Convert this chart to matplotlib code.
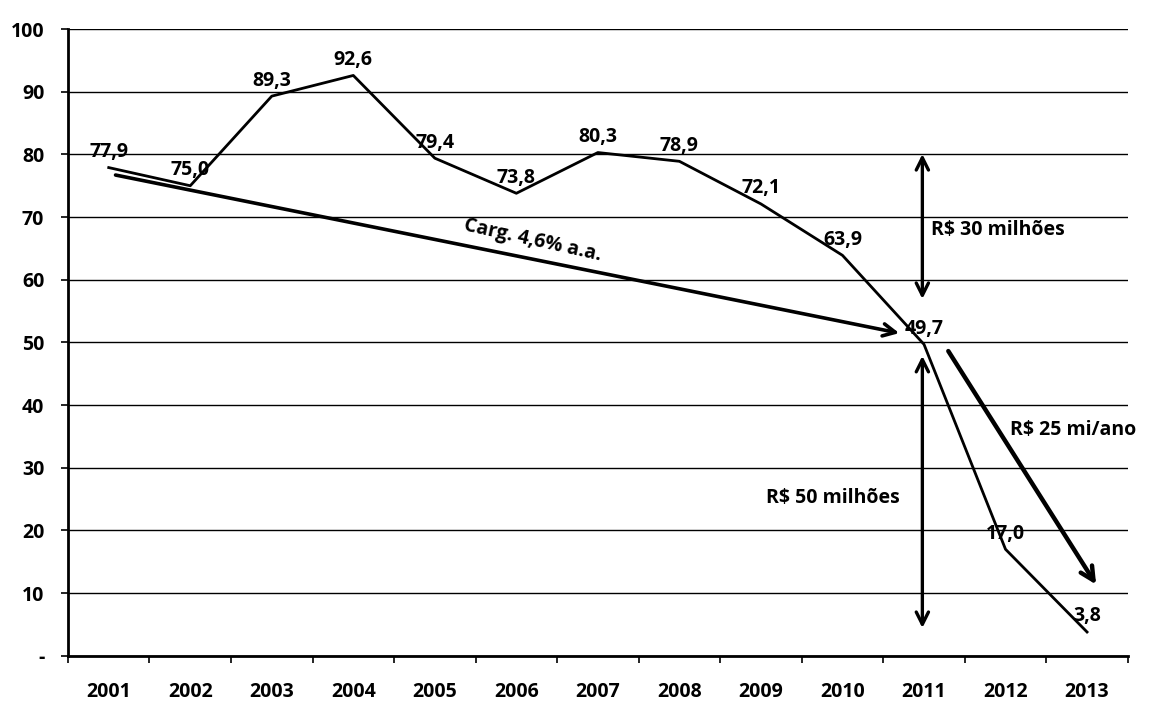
import matplotlib
matplotlib.use("Agg")
import matplotlib.pyplot as plt
from matplotlib.ticker import FixedLocator

anos = ["2001", "2002", "2003", "2004", "2005", "2006", "2007",
        "2008", "2009", "2010", "2011", "2012", "2013"]
valores = [77.9, 75.0, 89.3, 92.6, 79.4, 73.8, 80.3, 78.9, 72.1, 63.9, 49.7, 17.0, 3.8]
rotulos = ["77,9", "75,0", "89,3", "92,6", "79,4", "73,8", "80,3",
           "78,9", "72,1", "63,9", "49,7", "17,0", "3,8"]
y_ticks = [0, 10, 20, 30, 40, 50, 60, 70, 80, 90, 100]
y_labels = ["-", "10", "20", "30", "40", "50", "60", "70", "80", "90", "100"]

plt.rcParams["font.family"] = ["Open Sans", "DejaVu Sans"]
plt.rcParams["font.weight"] = "bold"
fs = 14

fig = plt.figure(figsize=(11.52, 7.09), dpi=100)
ax = fig.add_axes([0.059, 0.075, 0.92, 0.884])

x = list(range(len(anos)))
ax.plot(x, valores, color="black", lw=2.0, zorder=3)

for xi, v, r in zip(x, valores, rotulos):
    ax.annotate(r, (xi, v), xytext=(0, 4), textcoords="offset points",
                ha="center", va="bottom", fontsize=fs, fontweight="bold")

ax.set_xlim(-0.5, 12.5)
ax.set_ylim(0, 100)
ax.set_yticks(y_ticks)
ax.set_yticklabels(y_labels, fontsize=fs, fontweight="bold")
ax.set_xticks(x)
ax.set_xticklabels(anos, fontsize=fs, fontweight="bold")
ax.xaxis.set_minor_locator(FixedLocator([i - 0.5 for i in range(len(anos) + 1)]))
ax.tick_params(axis="x", which="major", length=0, pad=19)
ax.tick_params(axis="x", which="minor", length=5, width=1.2, direction="out")
ax.tick_params(axis="y", length=5, width=1.2, pad=12)

ax.grid(axis="y", color="black", lw=1.0)
ax.set_axisbelow(True)
for s in ["top", "right"]:
    ax.spines[s].set_visible(False)
ax.spines["left"].set_linewidth(2)
ax.spines["bottom"].set_linewidth(2)

# tendencia 2001-2011
ax.annotate("", xy=(9.73, 51.4), xytext=(0.05, 76.8),
            arrowprops=dict(arrowstyle="->", lw=2.6, color="black",
                            mutation_scale=22))
ax.text(5.2, 66.3, "Carg. 4,6% a.a.", rotation=-12.5, ha="center", va="center",
        fontsize=fs, fontweight="bold")

# diferencas em 2011
ax.annotate("", xy=(9.98, 80.5), xytext=(9.98, 56.5),
            arrowprops=dict(arrowstyle="<->", lw=2.4, color="black",
                            mutation_scale=22))
ax.text(10.08, 68, "R$ 30 milhões", ha="left", va="center",
        fontsize=fs, fontweight="bold")
ax.annotate("", xy=(9.98, 48.3), xytext=(9.98, 4.0),
            arrowprops=dict(arrowstyle="<->", lw=2.4, color="black",
                            mutation_scale=22))
ax.text(9.7, 25.2, "R$ 50 milhões", ha="right", va="center",
        fontsize=fs, fontweight="bold")

# queda anual
ax.annotate("", xy=(12.13, 11.0), xytext=(10.28, 49.0),
            arrowprops=dict(arrowstyle="->", lw=3.2, color="black",
                            mutation_scale=24))
ax.text(11.06, 36.0, "R$ 25 mi/ano", ha="left", va="center",
        fontsize=fs, fontweight="bold")

fig.savefig("out.png", dpi=100)
